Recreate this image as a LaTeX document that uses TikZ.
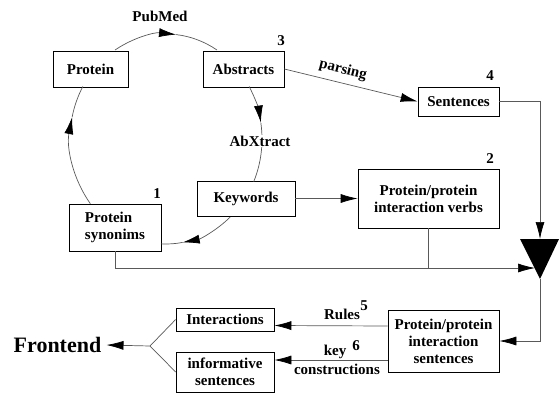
\documentclass[tikz,border=0pt]{standalone}
\usepackage{fontspec}
\setmainfont{Liberation Serif}
\usetikzlibrary{arrows.meta}
\tikzset{
  box/.style={draw, line width=0.7pt, inner sep=2pt, align=center,
    font=\fontsize{15}{17}\selectfont\bfseries},
  conn/.style={draw=black!65, line width=0.7pt},
  tip/.style={-{Latex[length=17pt,width=9pt,color=black]}},
  lbl/.style={inner sep=1pt, font=\fontsize{15}{17}\selectfont\bfseries},
}
\begin{document}
\begin{tikzpicture}[x=1pt, y=-1pt]
  \useasboundingbox (0,0) rectangle (559,394);
  % boxes
  \node[box, minimum width=75pt, minimum height=36pt] (prot) at (90.5,69) {Protein};
  \node[box, minimum width=81pt, minimum height=36pt] (abs) at (243.5,69) {Abstracts};
  \node[box, minimum width=81pt, minimum height=29pt] (sent) at (458.5,101.5) {Sentences};
  \node[box, minimum width=98pt, minimum height=35pt] (keyw) at (246,198.5) {Keywords};
  \node[box, minimum width=141pt, minimum height=59pt] (verbs) at (428.5,198.5) {Protein/protein\\interaction verbs};
  \node[box, align=left, minimum width=92pt, minimum height=47pt] (syn) at (115,227.5) {Protein\\synonims};
  \node[box, minimum width=98pt, minimum height=23pt] (inter) at (225,319.5) {Interactions};
  \node[box, minimum width=98pt, minimum height=40pt] (info) at (225,372) {informative\\sentences};
  \node[box, minimum width=111pt, minimum height=62pt] (pis) at (443.5,341) {Protein/protein\\interaction\\sentences};
  \node[inner sep=5pt, font=\fontsize{22}{24}\selectfont\bfseries] (front) at (57.5,345) {Frontend};
  % numbers
  \node[lbl] (n1) at (157,194) {1};
  \node[lbl] (n2) at (490,159) {2};
  \node[lbl] (n3) at (281,41) {3};
  \node[lbl] (n4) at (490,76) {4};
  % big triangle
  \coordinate (triL) at (520,239);
  \coordinate (triR) at (559,239);
  \coordinate (tritop) at (540,239);
  \coordinate (trileft) at (535,268);
  \coordinate (tribot) at (540,279);
  \fill (triL) -- (triR) -- (tribot) -- cycle;
  % cycle of arcs
  \coordinate (cyc) at (166,139);
  \draw[conn, tip] (cyc) ++(-122:96 and 105) arc[start angle=-122, end angle=-84, x radius=96, y radius=105];
  \draw[conn] (cyc) ++(-84:96 and 105) arc[start angle=-84, end angle=-58, x radius=96, y radius=105];
  \draw[conn, tip] (cyc) ++(-30:96 and 105) arc[start angle=-30, end angle=-9, x radius=96, y radius=105];
  \draw[conn] (cyc) ++(-9:96 and 105) arc[start angle=-9, end angle=24, x radius=96, y radius=105];
  \draw[conn, tip] (cyc) ++(48:96 and 105) arc[start angle=48, end angle=80, x radius=96, y radius=105];
  \draw[conn] (cyc) ++(80:96 and 105) arc[start angle=80, end angle=93, x radius=96, y radius=105];
  \draw[conn, tip] (cyc) ++(-218:96 and 105) arc[start angle=-218, end angle=-168, x radius=96, y radius=105];
  \draw[conn] (cyc) ++(-168:96 and 105) arc[start angle=-168, end angle=-150, x radius=96, y radius=105];
  \node[lbl, fill=white] (pubmed) at (160,16) {PubMed};
  \node[lbl, fill=white] (abx) at (260,141) {AbXtract};
  % connectors
  \draw[conn, tip] (abs.east) -- (sent.west);
  \node[lbl, inner sep=0pt, rotate=-14] (pars) at (343,70) {parsing};
  \draw[conn, tip] (keyw.east) -- (verbs.west);
  \draw[conn, tip] (sent.east) -| (tritop);
  \draw[conn, tip] (syn.south) |- (trileft);
  \draw[conn] (verbs.south) -- (verbs.south |- trileft);
  \draw[conn, tip] (tribot) |- (pis.east);
  \draw[conn, tip] ([yshift=15pt]pis.west) -- ([yshift=-6pt]inter.east);
  \draw[conn, tip] ([yshift=-19pt]pis.west) -- ([yshift=12pt]info.east);
  \node[lbl] (rules) at (342,314) {Rules};
  \node[lbl] (n5) at (364,306) {5};
  \node[lbl] (key) at (335,352) {key};
  \node[lbl] (n6) at (356,346) {6};
  \node[lbl] (constr) at (337,369) {constructions};
  % frontend fork
  \coordinate (fj) at (150,346);
  \draw[conn] (fj) -- (inter.west);
  \draw[conn] (fj) -- (info.west);
  \draw[conn, tip] (fj) -- (front.east);
\end{tikzpicture}
\end{document}
